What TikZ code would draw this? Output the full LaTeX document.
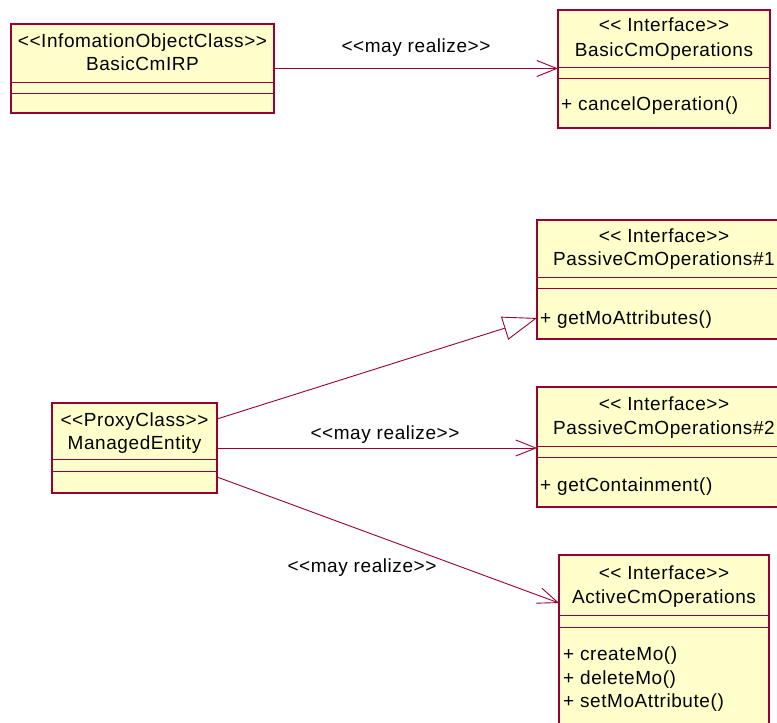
\documentclass[tikz,border=0pt]{standalone}
\usepackage{fontspec}
\newfontfamily\umlfont{Liberation Sans}[LetterSpace=3]
\usetikzlibrary{arrows.meta,calc}
\definecolor{umlline}{RGB}{153,0,51}
\definecolor{umlfill}{RGB}{255,255,204}
\begin{document}
\begin{tikzpicture}[x=1pt,y=-1pt,
 classbox/.style={draw=umlline,fill=umlfill,line width=1.3pt,anchor=north west,inner sep=0pt,outer sep=0pt},
 sepline/.style={draw=umlline,line width=1pt},
 txt/.style={font=\umlfont\fontsize{19}{22}\selectfont,inner sep=0pt,text height=13.6pt,text depth=0pt,text=black},
 optxt/.style={txt,anchor=west},
 opar/.style={draw=umlline,line width=0.9pt,-{Straight Barb[length=20pt,width=16pt,line width=0.9pt]}},
 gen/.style={draw=umlline,line width=0.9pt,-{Triangle[length=34pt,width=24pt,fill=white,line width=0.9pt]}}]
\useasboundingbox (0,0) rectangle (777,723);
\clip (0,0) rectangle (777,723);
% boxes
\node[classbox,minimum width=263pt,minimum height=89pt] (b1) at (11,24) {};
\node[classbox,minimum width=212pt,minimum height=118pt] (b2) at (558,10) {};
\node[classbox,minimum width=253pt,minimum height=119pt] (b3) at (537,220) {};
\node[classbox,minimum width=253pt,minimum height=120pt] (b4) at (537,387) {};
\node[classbox,minimum width=210pt,minimum height=180pt] (b5) at (559,555) {};
\node[classbox,minimum width=165pt,minimum height=90pt] (b6) at (52,403) {};
% compartments
\foreach \b/\ya/\yb in {b1/58/69, b2/57/68, b3/57/68, b4/59/70, b5/60/72, b6/56/68}{
  \draw[sepline] ($(\b.north west)+(0,\ya)$) -- ($(\b.north east)+(0,\ya)$);
  \draw[sepline] ($(\b.north west)+(0,\yb)$) -- ($(\b.north east)+(0,\yb)$);
}
% texts
\node[txt] (t1a) at (142.5,41) {<<InfomationObjectClass>>};
\node[txt] (t1b) at (142.5,64) {BasicCmIRP};
\node[txt] (t2a) at (664,25) {<< Interface>>};
\node[txt] (t2b) at (664,50) {BasicCmOperations};
\node[optxt] (t2c) at (561,104) {+ cancelOperation()};
\node[txt] (t3a) at (664,236) {<< Interface>>};
\node[txt] (t3b) at (664,259) {PassiveCmOperations\#1};
\node[optxt] (t3c) at (540,318) {+ getMoAttributes()};
\node[txt] (t4a) at (664,404) {<< Interface>>};
\node[txt] (t4b) at (664,428) {PassiveCmOperations\#2};
\node[optxt] (t4c) at (540,485) {+ getContainment()};
\node[txt] (t5a) at (664,573) {<< Interface>>};
\node[txt] (t5b) at (664,597) {ActiveCmOperations};
\node[optxt] (t5c) at (563,654) {+ createMo()};
\node[optxt] (t5d) at (563,678) {+ deleteMo()};
\node[optxt] (t5e) at (563,701) {+ setMoAttribute()};
\node[txt] (t6a) at (134.5,420) {<<ProxyClass>>};
\node[txt] (t6b) at (134.5,443) {ManagedEntity};
% connector end points
\coordinate (s1) at ($(b6.north east)+(0,16)$);
\coordinate (s3) at ($(b6.north east)+(0,74)$);
\coordinate (e3) at ($(b3.north west)+(0,98)$);
\coordinate (e5) at ($(b5.north west)+(0,48)$);
% connectors
\draw[opar] (b1.east) -- (b1.east -| b2.west);
\draw[gen] (s1) -- (e3);
\draw[opar] (b6.east) -- (b6.east -| b4.west);
\draw[opar] (s3) -- (e5);
% labels
\node[txt] (l1) at (416,46) {<<may realize>>};
\node[txt] (l2) at (385,433) {<<may realize>>};
\node[txt] (l3) at (362,566) {<<may realize>>};
\end{tikzpicture}
\end{document}
